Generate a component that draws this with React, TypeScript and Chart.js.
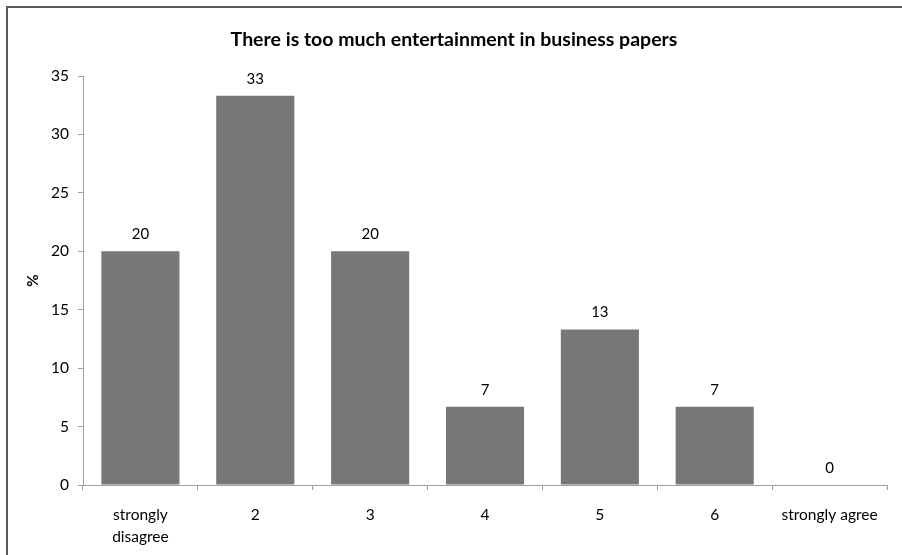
import React, { useEffect, useRef } from "react";
import { Chart, registerables } from "chart.js";

Chart.register(...registerables);

const categories: (string | string[])[] = [
  ["strongly", "disagree"],
  "2",
  "3",
  "4",
  "5",
  "6",
  "strongly agree",
];
const values: number[] = [20, 33.3, 20, 6.7, 13.3, 6.7, 0];
const yTicks: number[] = [0, 5, 10, 15, 20, 25, 30, 35];
const titleText = "There is too much entertainment in business papers";
const yTitle = "%";

const FONT = "Lato, 'Open Sans', 'Liberation Sans', sans-serif";

const valueLabels = {
  id: "valueLabels",
  afterDatasetsDraw(chart: any) {
    const ctx = chart.ctx;
    const meta = chart.getDatasetMeta(0);
    ctx.save();
    ctx.fillStyle = "#000";
    ctx.font = `15px ${FONT}`;
    ctx.textAlign = "center";
    ctx.textBaseline = "middle";
    meta.data.forEach((bar: any, i: number) => {
      const v = values[i];
      ctx.fillText(String(Math.round(v)), bar.x, bar.y - 17);
    });
    ctx.restore();
  },
};

export default function App() {
  const ref = useRef<HTMLCanvasElement | null>(null);
  useEffect(() => {
    if (!ref.current) return;
    const chart = new Chart(ref.current, {
      type: "bar",
      data: {
        labels: categories,
        datasets: [
          {
            data: values,
            backgroundColor: "#777777",
            borderWidth: 0,
            barPercentage: 0.68,
            categoryPercentage: 1,
          },
        ],
      },
      options: {
        responsive: false,
        animation: false,
        layout: { padding: { left: 21, right: 15, top: 0, bottom: 0 } },
        plugins: {
          legend: { display: false },
          tooltip: { enabled: false },
          title: {
            display: true,
            text: titleText,
            color: "#000",
            font: { family: FONT, size: 19.5, weight: "bold", lineHeight: 1.2 },
            padding: { top: 28, bottom: 24.6 },
          },
        },
        scales: {
          x: {
            grid: {
              drawOnChartArea: false,
              drawTicks: true,
              tickLength: 5,
              color: "#a0a0a0",
              offset: true,
            },
            border: { display: true, color: "#a0a0a0", width: 1 },
            ticks: {
              color: "#000",
              font: { family: FONT, size: 15.5, lineHeight: 1.4 },
              padding: 14,
              maxRotation: 0,
              autoSkip: false,
            },
            afterFit(scale: any) {
              scale.height = 70;
            },
          },
          y: {
            min: 0,
            max: 35,
            afterBuildTicks(scale: any) {
              scale.ticks = yTicks.map((v) => ({ value: v }));
            },
            grid: {
              drawOnChartArea: false,
              drawTicks: true,
              tickLength: 5,
              color: "#a0a0a0",
            },
            border: { display: true, color: "#a0a0a0", width: 1 },
            ticks: {
              color: "#000",
              font: { family: FONT, size: 15.5 },
              padding: 9,
            },
            title: {
              display: true,
              text: yTitle,
              color: "#000",
              font: { family: FONT, size: 15, weight: "bold" },
              padding: { top: 3, bottom: 0 },
            },
            afterFit(scale: any) {
              scale.width = 62;
            },
          },
        },
      },
      plugins: [valueLabels],
    });
    return () => chart.destroy();
  }, []);

  return (
    <div
      style={{
        position: "fixed",
        left: 0,
        top: 0,
        width: 902,
        height: 555,
        overflow: "hidden",
        background: "#fff",
      }}
    >
      <canvas
        ref={ref}
        width={902}
        height={555}
        style={{ position: "absolute", left: 0, top: 0, width: 902, height: 555 }}
      />
      <div
        style={{
          position: "absolute",
          left: 6,
          top: 6,
          width: 1000,
          height: 1000,
          borderTop: "2px solid #5a5a5a",
          borderLeft: "2px solid #5a5a5a",
          pointerEvents: "none",
        }}
      />
    </div>
  );
}
